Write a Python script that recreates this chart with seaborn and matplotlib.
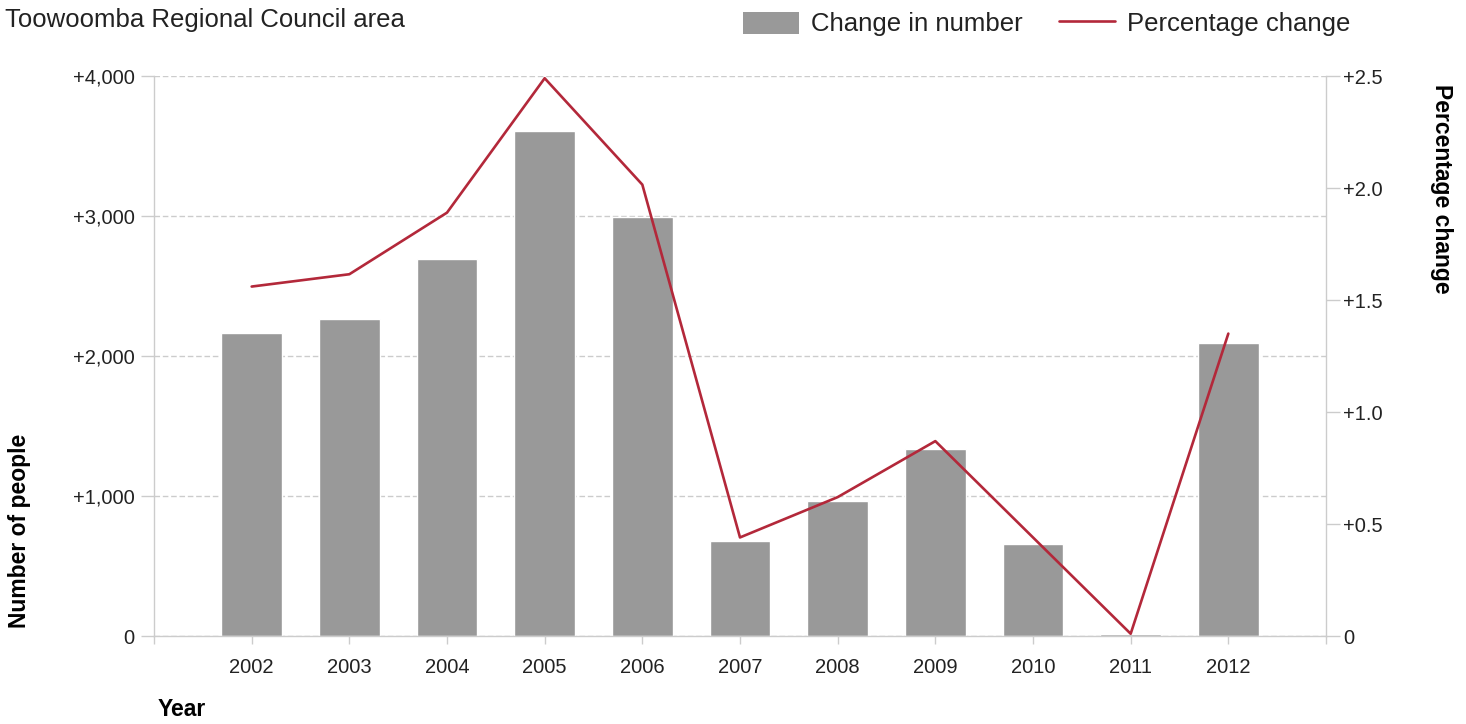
import numpy as np
import matplotlib
matplotlib.use("Agg")
import matplotlib.pyplot as plt
import matplotlib.ticker as mticker
from matplotlib.patches import Patch
from matplotlib.lines import Line2D
import seaborn as sns
import pandas as pd

# ===============================
# Data
# ===============================
years = [2002, 2003, 2004, 2005, 2006, 2007, 2008, 2009, 2010, 2011, 2012]
change_in_number = [2162, 2262, 2690, 3607, 2995, 679, 962, 1333, 659, 17, 2093]
percentage_change = [1.56, 1.615, 1.89, 2.49, 2.015, 0.44, 0.62, 0.87, 0.44, 0.01, 1.35]

df = pd.DataFrame({"Year": years, "Change": change_in_number, "Pct": percentage_change})

bar_color = "#999999"
line_color = "#b3283a"
grid_color = "#cccccc"
text_color = "#222222"

# ===============================
# Style
# ===============================
sns.set_style("white")
plt.rcParams["font.family"] = ["Liberation Sans", "DejaVu Sans"]

fig = plt.figure(figsize=(14.66, 7.24), dpi=100)
ax = fig.add_axes([154 / 1466, 1 - 636 / 724, (1326 - 154) / 1466, (636 - 76) / 724])

# bars
sns.barplot(data=df, x="Year", y="Change", native_scale=True, color=bar_color,
            saturation=1, width=0.62, ax=ax, zorder=2)

ax.set_xlim(years[0] - 1, years[-1] + 1)
ax.set_ylim(0, 4000)
ax.set_yticks([0, 1000, 2000, 3000, 4000])
ax.yaxis.set_major_formatter(mticker.FuncFormatter(lambda v, p: "0" if v == 0 else f"+{v:,.0f}"))
# end ticks at the axis edges get no label
ax.set_xticks([years[0] - 1] + years + [years[-1] + 1])
ax.set_xticklabels([""] + [str(y) for y in years] + [""])
ax.yaxis.grid(True, color=grid_color, linestyle=(0, (4, 2)), linewidth=1, zorder=0)
ax.set_axisbelow(True)

for side in ["top", "right"]:
    ax.spines[side].set_visible(False)
for side in ["left", "bottom"]:
    ax.spines[side].set_color(grid_color)
    ax.spines[side].set_linewidth(1)

ax.tick_params(axis="both", colors=grid_color, labelcolor=text_color, labelsize=14.5,
               width=1, direction="out", left=True, bottom=True)
ax.tick_params(axis="y", length=9.5, pad=4.5)
ax.tick_params(axis="x", length=6, pad=10)

# line on right axis
ax2 = ax.twinx()
sns.lineplot(data=df, x="Year", y="Pct", color=line_color, linewidth=1.9, ax=ax2, zorder=3)
ax2.set_ylim(0, 2.5)
ax2.set_yticks([0, 0.5, 1.0, 1.5, 2.0, 2.5])
ax2.yaxis.set_major_formatter(mticker.FuncFormatter(lambda v, p: "0" if v == 0 else f"+{v:.1f}"))
for side in ["top", "left", "bottom"]:
    ax2.spines[side].set_visible(False)
ax2.spines["right"].set_color(grid_color)
ax2.spines["right"].set_linewidth(1)
ax2.tick_params(axis="y", colors=grid_color, labelcolor=text_color, labelsize=14.5,
                length=10, width=1, pad=2.5, direction="out", right=True)
ax2.grid(False)

# axis labels
ax.set_xlabel("Year", fontsize=16.5, fontweight="bold", color="black", ha="left", va="center")
ax.xaxis.set_label_coords(0.003, (636 - 710) / 560)
ax.set_ylabel("Number of people", fontsize=16.5, fontweight="bold", color="black",
              ha="center", va="center")
ax.yaxis.set_label_coords((20 - 154) / 1172, (636 - 531) / 560)
ax2.set_ylabel("Percentage change", fontsize=16.5, fontweight="bold", color="black",
               rotation=270, ha="center", va="center")
ax2.yaxis.set_label_coords((1441 - 154) / 1172, (636 - 189) / 560)

# title + legend
fig.text(5 / 1466, 1 - 20 / 724, "Toowoomba Regional Council area", fontsize=18.5,
         color=text_color, ha="left", va="center")

handles = [Patch(facecolor=bar_color, edgecolor="none", label="Change in number"),
           Line2D([0], [0], color=line_color, linewidth=1.9, label="Percentage change")]
fig.legend(handles=handles, loc="center right", bbox_to_anchor=(1350 / 1466, 1 - 24 / 724),
           ncol=2, frameon=False, fontsize=18.5, handlelength=2.2, handleheight=0.95,
           handletextpad=0.45, columnspacing=1.4, borderaxespad=0, borderpad=0,
           labelcolor=text_color)

fig.savefig("out.png", dpi=100)
